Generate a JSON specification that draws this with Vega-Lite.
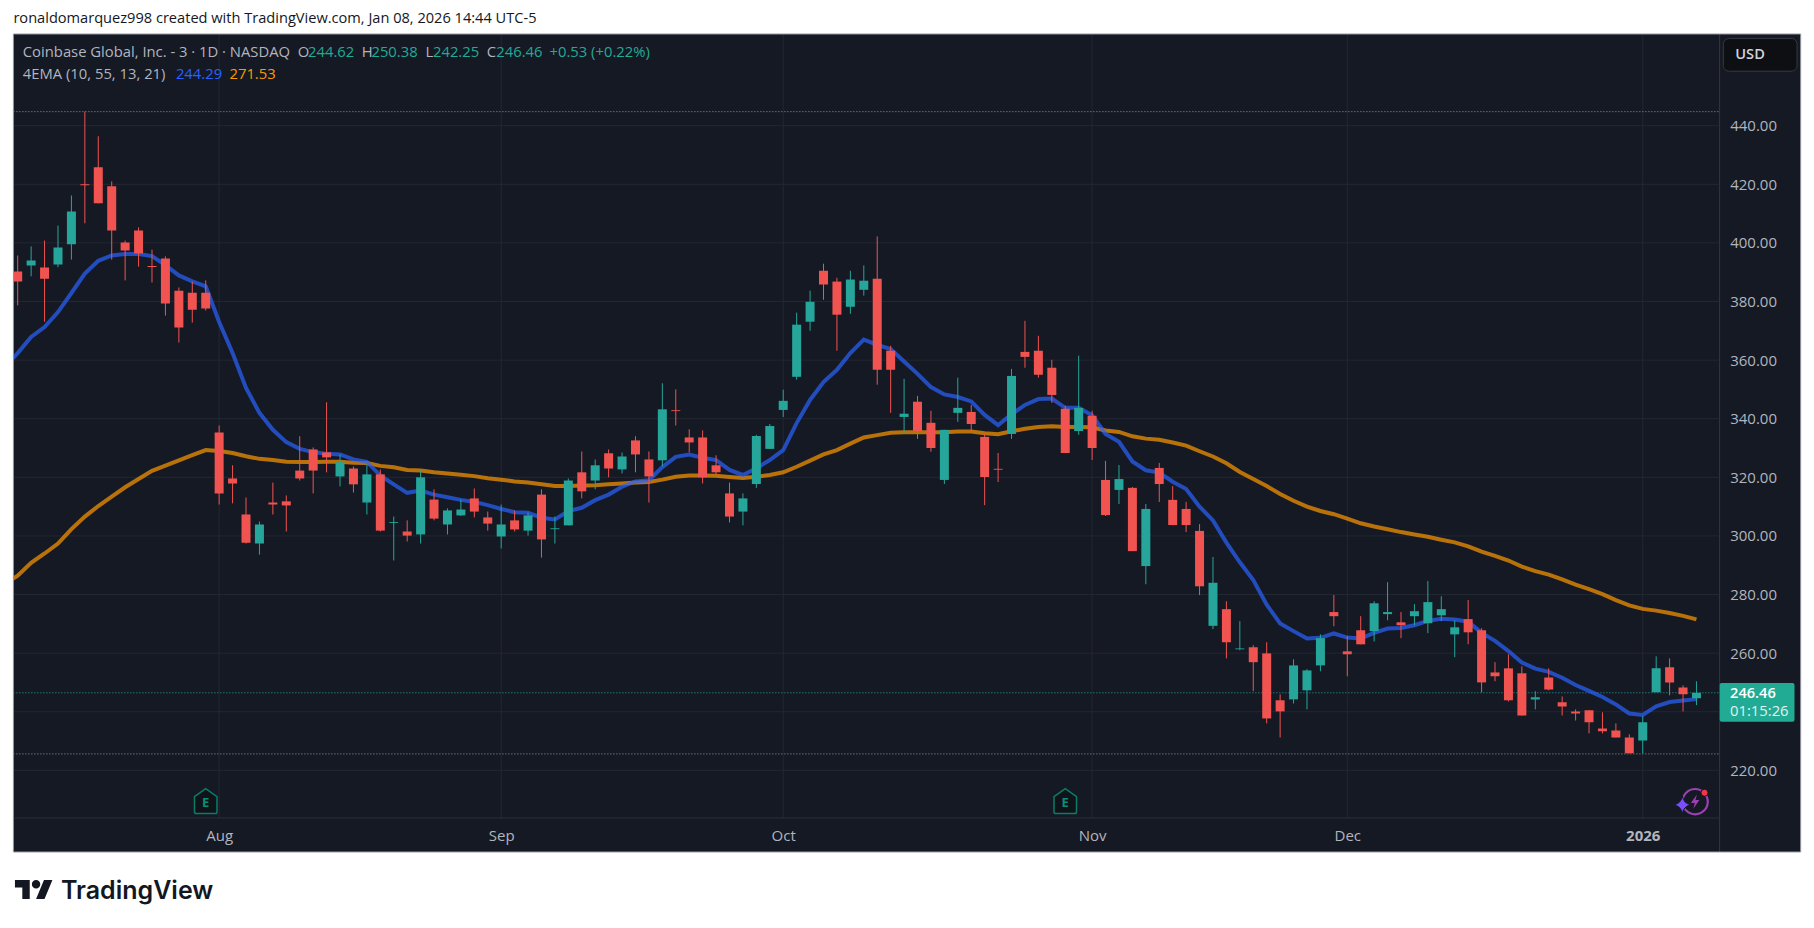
{
  "$schema": "https://vega.github.io/schema/vega-lite/v6.json",
  "width": 1706.3,
  "height": 784,
  "autosize": {"type": "none"},
  "padding": {"left": 13.4, "top": 34, "right": 94.3, "bottom": 110},
  "background": "#ffffff",
  "title": {
    "text": "ronaldomarquez998 created with TradingView.com, Jan 08, 2026 14:44 UTC-5",
    "anchor": "start",
    "frame": "group",
    "offset": 8,
    "font": "Open Sans",
    "fontSize": 14.6,
    "fontWeight": "normal",
    "color": "#131722"
  },
  "config": {
    "view": {"fill": "#151924", "stroke": null},
    "font": "Open Sans"
  },
  "datasets": {
    "candles": [
      {"bar":-1,"date":"2025-07-10","open":null,"high":null,"low":null,"close":null,"ema10":357.5,"ema55":283.5},
      {"bar":0,"date":"2025-07-11","open":390.2,"high":395.7,"low":378.7,"close":386.8,"ema10":362.4,"ema55":286.4},
      {"bar":1,"date":"2025-07-14","open":392.3,"high":398.8,"low":388.6,"close":394,"ema10":367.9,"ema55":290.8},
      {"bar":2,"date":"2025-07-15","open":391.6,"high":400.8,"low":373.1,"close":387.8,"ema10":371.3,"ema55":294},
      {"bar":3,"date":"2025-07-16","open":392.6,"high":405.9,"low":391.7,"close":398.4,"ema10":376.4,"ema55":297.4},
      {"bar":4,"date":"2025-07-17","open":399.5,"high":416.2,"low":394.3,"close":410.7,"ema10":382.9,"ema55":302.3},
      {"bar":5,"date":"2025-07-18","open":420,"high":444.8,"low":406.7,"close":419.7,"ema10":389.5,"ema55":306.6},
      {"bar":6,"date":"2025-07-21","open":425.8,"high":436.4,"low":413.5,"close":413.5,"ema10":393.9,"ema55":310.2},
      {"bar":7,"date":"2025-07-22","open":419.3,"high":421,"low":394.3,"close":404.2,"ema10":395.7,"ema55":313.4},
      {"bar":8,"date":"2025-07-23","open":400.1,"high":400.8,"low":387.2,"close":397.4,"ema10":396.2,"ema55":316.6},
      {"bar":9,"date":"2025-07-24","open":404.2,"high":405.3,"low":391.9,"close":396.4,"ema10":396.2,"ema55":319.4},
      {"bar":10,"date":"2025-07-25","open":392.1,"high":397.7,"low":386.5,"close":391.8,"ema10":395.5,"ema55":322.2},
      {"bar":11,"date":"2025-07-28","open":394.7,"high":395.4,"low":375.2,"close":379.3,"ema10":392.4,"ema55":324},
      {"bar":12,"date":"2025-07-29","open":383.7,"high":384.8,"low":366,"close":371.1,"ema10":388.9,"ema55":325.8},
      {"bar":13,"date":"2025-07-30","open":383,"high":386.8,"low":372.8,"close":377.2,"ema10":386.9,"ema55":327.6},
      {"bar":14,"date":"2025-07-31","open":383,"high":387.2,"low":376.9,"close":377.6,"ema10":385.2,"ema55":329.3},
      {"bar":15,"date":"2025-08-01","open":335.3,"high":337.7,"low":310.7,"close":314.5,"ema10":373,"ema55":329},
      {"bar":16,"date":"2025-08-04","open":319.6,"high":324.1,"low":311.1,"close":317.9,"ema10":362.4,"ema55":328.3},
      {"bar":17,"date":"2025-08-05","open":307.3,"high":313.1,"low":297.4,"close":297.7,"ema10":350.5,"ema55":327.2},
      {"bar":18,"date":"2025-08-06","open":297.4,"high":304.9,"low":293.6,"close":303.9,"ema10":342,"ema55":326.3},
      {"bar":19,"date":"2025-08-07","open":311.4,"high":318.2,"low":307.3,"close":310.7,"ema10":336.2,"ema55":325.9},
      {"bar":20,"date":"2025-08-08","open":311.8,"high":313.8,"low":301.5,"close":310.4,"ema10":332,"ema55":325.3},
      {"bar":21,"date":"2025-08-11","open":322.3,"high":334,"low":318.9,"close":319.6,"ema10":329.7,"ema55":325.2},
      {"bar":22,"date":"2025-08-12","open":329.5,"high":330.2,"low":314.5,"close":322.3,"ema10":328.6,"ema55":325.2},
      {"bar":23,"date":"2025-08-13","open":328.5,"high":345.6,"low":321.7,"close":326.8,"ema10":328,"ema55":325.3},
      {"bar":24,"date":"2025-08-14","open":320.3,"high":327.8,"low":316.9,"close":325.1,"ema10":327.8,"ema55":325.3},
      {"bar":25,"date":"2025-08-15","open":323,"high":323.7,"low":314.8,"close":317.6,"ema10":326.1,"ema55":325},
      {"bar":26,"date":"2025-08-18","open":311.4,"high":324.4,"low":307.3,"close":321,"ema10":325.3,"ema55":324.9},
      {"bar":27,"date":"2025-08-19","open":321,"high":322.7,"low":301.5,"close":301.8,"ema10":320.6,"ema55":323.9},
      {"bar":28,"date":"2025-08-20","open":304.4,"high":306.6,"low":291.6,"close":304.7,"ema10":317.6,"ema55":323.4},
      {"bar":29,"date":"2025-08-21","open":301.5,"high":305.3,"low":298.1,"close":300.1,"ema10":314.7,"ema55":322.5},
      {"bar":30,"date":"2025-08-22","open":300.5,"high":322.3,"low":297.4,"close":320,"ema10":315.5,"ema55":322.3},
      {"bar":31,"date":"2025-08-25","open":312.4,"high":315.9,"low":305.3,"close":305.9,"ema10":314.1,"ema55":321.7},
      {"bar":32,"date":"2025-08-26","open":303.9,"high":309.4,"low":300.5,"close":308.7,"ema10":313.2,"ema55":321.3},
      {"bar":33,"date":"2025-08-27","open":307,"high":312.4,"low":306.8,"close":309,"ema10":312.3,"ema55":320.9},
      {"bar":34,"date":"2025-08-28","open":312.8,"high":316.2,"low":306.3,"close":308.3,"ema10":311.6,"ema55":320.4},
      {"bar":35,"date":"2025-08-29","open":306.3,"high":308.3,"low":301.8,"close":304.2,"ema10":310.5,"ema55":319.7},
      {"bar":36,"date":"2025-09-02","open":299.8,"high":310.7,"low":295.7,"close":303.9,"ema10":309.2,"ema55":319.2},
      {"bar":37,"date":"2025-09-03","open":305.3,"high":308.7,"low":301.5,"close":302.2,"ema10":308.1,"ema55":318.6},
      {"bar":38,"date":"2025-09-04","open":301.8,"high":308,"low":300.1,"close":307,"ema10":307.9,"ema55":318.2},
      {"bar":39,"date":"2025-09-05","open":314.1,"high":315.9,"low":292.6,"close":298.8,"ema10":306.2,"ema55":317.6},
      {"bar":40,"date":"2025-09-08","open":302.3,"high":306.6,"low":297.4,"close":302.6,"ema10":305.6,"ema55":317},
      {"bar":41,"date":"2025-09-09","open":303.6,"high":319.6,"low":303.6,"close":318.9,"ema10":308.5,"ema55":317},
      {"bar":42,"date":"2025-09-10","open":321.7,"high":328.8,"low":312.8,"close":315.2,"ema10":309.6,"ema55":317.2},
      {"bar":43,"date":"2025-09-11","open":318.9,"high":326.1,"low":315.9,"close":324.1,"ema10":312.2,"ema55":317.3},
      {"bar":44,"date":"2025-09-12","open":328.2,"high":329.5,"low":320,"close":323,"ema10":314.1,"ema55":317.6},
      {"bar":45,"date":"2025-09-15","open":322.7,"high":328.5,"low":321.3,"close":327.1,"ema10":316.8,"ema55":317.9},
      {"bar":46,"date":"2025-09-16","open":332.6,"high":334,"low":321.7,"close":327.8,"ema10":318.6,"ema55":318.2},
      {"bar":47,"date":"2025-09-17","open":326.1,"high":328.8,"low":311.4,"close":320.3,"ema10":319,"ema55":318.4},
      {"bar":48,"date":"2025-09-18","open":325.8,"high":352.1,"low":323.7,"close":343.2,"ema10":323.5,"ema55":319.2},
      {"bar":49,"date":"2025-09-19","open":342.9,"high":350,"low":337.7,"close":342.6,"ema10":327,"ema55":320.2},
      {"bar":50,"date":"2025-09-22","open":333.6,"high":336.4,"low":328.5,"close":331.9,"ema10":327.8,"ema55":320.6},
      {"bar":51,"date":"2025-09-23","open":333.6,"high":336,"low":317.9,"close":320,"ema10":326.7,"ema55":320.6},
      {"bar":52,"date":"2025-09-24","open":324.1,"high":327.5,"low":321,"close":321.7,"ema10":325.9,"ema55":320.5},
      {"bar":53,"date":"2025-09-25","open":314.5,"high":318.2,"low":304.6,"close":306.6,"ema10":322.5,"ema55":320.1},
      {"bar":54,"date":"2025-09-26","open":308.3,"high":314.5,"low":303.6,"close":312.8,"ema10":320.8,"ema55":319.8},
      {"bar":55,"date":"2025-09-29","open":317.7,"high":334.5,"low":316.4,"close":334.1,"ema10":323.1,"ema55":320.2},
      {"bar":56,"date":"2025-09-30","open":329.7,"high":338.2,"low":329.7,"close":337.5,"ema10":325.9,"ema55":320.8},
      {"bar":57,"date":"2025-10-01","open":343,"high":349.9,"low":340.6,"close":346.1,"ema10":329.3,"ema55":321.7},
      {"bar":58,"date":"2025-10-02","open":354.3,"high":376.2,"low":353.3,"close":372.1,"ema10":338.5,"ema55":323.6},
      {"bar":59,"date":"2025-10-03","open":373.1,"high":383.7,"low":370,"close":379.9,"ema10":346.4,"ema55":325.7},
      {"bar":60,"date":"2025-10-06","open":390.5,"high":392.9,"low":380.6,"close":385.8,"ema10":352.5,"ema55":327.8},
      {"bar":61,"date":"2025-10-07","open":386.8,"high":388.1,"low":363.2,"close":375.5,"ema10":356.7,"ema55":329.3},
      {"bar":62,"date":"2025-10-08","open":378.2,"high":390.5,"low":375.8,"close":387.5,"ema10":362.4,"ema55":331.5},
      {"bar":63,"date":"2025-10-09","open":384,"high":392.3,"low":382,"close":387.1,"ema10":367,"ema55":333.6},
      {"bar":64,"date":"2025-10-10","open":387.8,"high":402.2,"low":351.6,"close":356.7,"ema10":365.2,"ema55":334.4},
      {"bar":65,"date":"2025-10-13","open":363.2,"high":364.9,"low":342,"close":356.7,"ema10":363.8,"ema55":335.2},
      {"bar":66,"date":"2025-10-14","open":340.6,"high":353.6,"low":335.2,"close":341.7,"ema10":359.5,"ema55":335.4},
      {"bar":67,"date":"2025-10-15","open":345.8,"high":347.8,"low":333.1,"close":335.8,"ema10":355.3,"ema55":335.4},
      {"bar":68,"date":"2025-10-16","open":338.6,"high":342.7,"low":328.7,"close":330,"ema10":350.8,"ema55":335.4},
      {"bar":69,"date":"2025-10-17","open":319.1,"high":336.2,"low":317.7,"close":336.2,"ema10":348.3,"ema55":335.4},
      {"bar":70,"date":"2025-10-20","open":342,"high":354,"low":338.9,"close":343.7,"ema10":347.4,"ema55":335.6},
      {"bar":71,"date":"2025-10-21","open":342.3,"high":344.7,"low":335.5,"close":338.2,"ema10":345.9,"ema55":335.6},
      {"bar":72,"date":"2025-10-22","open":333.8,"high":334.8,"low":310.5,"close":320.1,"ema10":341.3,"ema55":335},
      {"bar":73,"date":"2025-10-23","open":322.9,"high":328.3,"low":318.4,"close":322.6,"ema10":337.8,"ema55":334.7},
      {"bar":74,"date":"2025-10-24","open":334.8,"high":357,"low":333.1,"close":354.6,"ema10":341.5,"ema55":335.7},
      {"bar":75,"date":"2025-10-27","open":362.8,"high":373.4,"low":357.4,"close":361.1,"ema10":344.7,"ema55":336.6},
      {"bar":76,"date":"2025-10-28","open":363.2,"high":368.3,"low":354,"close":355,"ema10":346.7,"ema55":337.2},
      {"bar":77,"date":"2025-10-29","open":357.4,"high":360.1,"low":345.4,"close":348.1,"ema10":346.9,"ema55":337.4},
      {"bar":78,"date":"2025-10-30","open":343.4,"high":344.4,"low":328.3,"close":328.3,"ema10":343.7,"ema55":337.2},
      {"bar":79,"date":"2025-10-31","open":335.8,"high":361.5,"low":334.5,"close":343.7,"ema10":343.7,"ema55":337.2},
      {"bar":80,"date":"2025-11-03","open":341,"high":342.7,"low":325.9,"close":330,"ema10":341.2,"ema55":337.1},
      {"bar":81,"date":"2025-11-04","open":319.1,"high":325.6,"low":306.8,"close":307.1,"ema10":334.8,"ema55":336},
      {"bar":82,"date":"2025-11-05","open":315.7,"high":324.2,"low":310.9,"close":319.4,"ema10":332.1,"ema55":335.5},
      {"bar":83,"date":"2025-11-06","open":316.4,"high":316.7,"low":294.8,"close":294.8,"ema10":325.4,"ema55":334},
      {"bar":84,"date":"2025-11-07","open":289.7,"high":310.9,"low":283.5,"close":309.2,"ema10":322.4,"ema55":333.2},
      {"bar":85,"date":"2025-11-10","open":323.2,"high":324.9,"low":311.6,"close":317.7,"ema10":321.6,"ema55":332.8},
      {"bar":86,"date":"2025-11-11","open":312.3,"high":317,"low":303.7,"close":303.7,"ema10":318.5,"ema55":331.9},
      {"bar":87,"date":"2025-11-12","open":309.2,"high":311.6,"low":301.3,"close":303.7,"ema10":316,"ema55":330.8},
      {"bar":88,"date":"2025-11-13","open":301.7,"high":304,"low":279.8,"close":282.8,"ema10":310,"ema55":328.9},
      {"bar":89,"date":"2025-11-14","open":269.3,"high":292.8,"low":268.2,"close":284,"ema10":305.3,"ema55":327.1},
      {"bar":90,"date":"2025-11-17","open":275,"high":277.7,"low":258.2,"close":263.7,"ema10":297.7,"ema55":324.8},
      {"bar":91,"date":"2025-11-18","open":261.3,"high":270.9,"low":261,"close":261.6,"ema10":291,"ema55":321.8},
      {"bar":92,"date":"2025-11-19","open":262,"high":262.7,"low":247,"close":256.9,"ema10":284.9,"ema55":319.4},
      {"bar":93,"date":"2025-11-20","open":259.9,"high":263.7,"low":236,"close":237.7,"ema10":276.5,"ema55":317},
      {"bar":94,"date":"2025-11-21","open":243.9,"high":245.9,"low":231.2,"close":240.1,"ema10":270.1,"ema55":314.3},
      {"bar":95,"date":"2025-11-24","open":244.2,"high":257.9,"low":242.8,"close":255.8,"ema10":267.5,"ema55":312},
      {"bar":96,"date":"2025-11-25","open":247.3,"high":254.5,"low":240.8,"close":254.1,"ema10":265,"ema55":310},
      {"bar":97,"date":"2025-11-26","open":255.8,"high":266.4,"low":253.8,"close":265.1,"ema10":265.2,"ema55":308.5},
      {"bar":98,"date":"2025-11-28","open":274,"high":279.8,"low":269.2,"close":272.6,"ema10":266.7,"ema55":307.4},
      {"bar":99,"date":"2025-12-01","open":260.6,"high":265.8,"low":252.1,"close":259.6,"ema10":265.3,"ema55":305.9},
      {"bar":100,"date":"2025-12-02","open":267.8,"high":272.6,"low":263,"close":263,"ema10":265,"ema55":304.3},
      {"bar":101,"date":"2025-12-03","open":267.5,"high":277.7,"low":264,"close":277,"ema10":266.9,"ema55":303.2},
      {"bar":102,"date":"2025-12-04","open":273.3,"high":284.2,"low":271.2,"close":274,"ema10":268.4,"ema55":302.3},
      {"bar":103,"date":"2025-12-05","open":270.5,"high":274,"low":265.1,"close":269.5,"ema10":268.6,"ema55":301.3},
      {"bar":104,"date":"2025-12-08","open":272.6,"high":276.7,"low":269.5,"close":274.3,"ema10":269.5,"ema55":300.5},
      {"bar":105,"date":"2025-12-09","open":270.2,"high":284.6,"low":266.8,"close":277.4,"ema10":271,"ema55":299.7},
      {"bar":106,"date":"2025-12-10","open":272.9,"high":279.4,"low":270.9,"close":275,"ema10":271.7,"ema55":298.7},
      {"bar":107,"date":"2025-12-11","open":266.4,"high":271.2,"low":258.6,"close":268.8,"ema10":271.5,"ema55":297.8},
      {"bar":108,"date":"2025-12-12","open":271.6,"high":278.1,"low":263,"close":267.1,"ema10":270.7,"ema55":296.4},
      {"bar":109,"date":"2025-12-15","open":267.8,"high":268.5,"low":246.6,"close":250,"ema10":266.9,"ema55":294.6},
      {"bar":110,"date":"2025-12-16","open":253.4,"high":256.9,"low":250.4,"close":252.1,"ema10":264.2,"ema55":293.2},
      {"bar":111,"date":"2025-12-17","open":254.8,"high":259.6,"low":243.5,"close":243.9,"ema10":260.7,"ema55":291.6},
      {"bar":112,"date":"2025-12-18","open":253.1,"high":255.5,"low":238.7,"close":238.7,"ema10":256.8,"ema55":289.5},
      {"bar":113,"date":"2025-12-19","open":244.2,"high":247,"low":240.8,"close":244.9,"ema10":254.7,"ema55":288},
      {"bar":114,"date":"2025-12-22","open":251.7,"high":254.8,"low":247.3,"close":247.6,"ema10":253.6,"ema55":286.8},
      {"bar":115,"date":"2025-12-23","open":243.2,"high":245.2,"low":238.7,"close":241.8,"ema10":251.6,"ema55":285.2},
      {"bar":116,"date":"2025-12-24","open":240.1,"high":240.8,"low":237,"close":239.4,"ema10":249.1,"ema55":283.4},
      {"bar":117,"date":"2025-12-26","open":240.5,"high":240.5,"low":232.6,"close":236.4,"ema10":247.1,"ema55":281.8},
      {"bar":118,"date":"2025-12-29","open":234.3,"high":239.8,"low":232.6,"close":233.3,"ema10":245,"ema55":280.1},
      {"bar":119,"date":"2025-12-30","open":233.6,"high":236,"low":231.2,"close":231.2,"ema10":242.5,"ema55":278.1},
      {"bar":120,"date":"2025-12-31","open":231.2,"high":232.3,"low":225.8,"close":225.8,"ema10":239.4,"ema55":276.3},
      {"bar":121,"date":"2026-01-02","open":230.2,"high":238.4,"low":225.8,"close":236.4,"ema10":238.9,"ema55":275.1},
      {"bar":122,"date":"2026-01-05","open":246.6,"high":258.9,"low":246.6,"close":254.8,"ema10":241.8,"ema55":274.5},
      {"bar":123,"date":"2026-01-06","open":255.2,"high":258.2,"low":245.6,"close":250,"ema10":243.3,"ema55":273.7},
      {"bar":124,"date":"2026-01-07","open":248.3,"high":249,"low":240.1,"close":245.93,"ema10":243.8,"ema55":272.7},
      {"bar":125,"date":"2026-01-08","open":244.62,"high":250.38,"low":242.25,"close":246.46,"ema10":244.29,"ema55":271.53}
    ],
    "strips": [
      {"bar":126.73,"barEnd":132.76,"price":192.12,"priceEnd":471.3},
      {"bar":-0.32,"barEnd":126.73,"price":192.12,"priceEnd":203.72}
    ],
    "frame": [
      {"bar":-0.32,"barEnd":132.76,"price":192.12,"priceEnd":471.3}
    ],
    "levels": [
      {"bar":-0.32,"barEnd":126.73,"price":444.8,"kind":"range"},
      {"bar":-0.32,"barEnd":126.73,"price":225.6,"kind":"range"},
      {"bar":-0.32,"barEnd":126.73,"price":246.46,"kind":"last"}
    ],
    "separators": [
      {"bar":-0.32,"barEnd":126.73,"price":203.72,"priceEnd":203.72},
      {"bar":126.73,"barEnd":126.73,"price":192.12,"priceEnd":471.3}
    ],
    "gridlines": [
      {"bar":-0.32,"barEnd":126.73,"price":220,"priceEnd":220},
      {"bar":-0.32,"barEnd":126.73,"price":240,"priceEnd":240},
      {"bar":-0.32,"barEnd":126.73,"price":260,"priceEnd":260},
      {"bar":-0.32,"barEnd":126.73,"price":280,"priceEnd":280},
      {"bar":-0.32,"barEnd":126.73,"price":300,"priceEnd":300},
      {"bar":-0.32,"barEnd":126.73,"price":320,"priceEnd":320},
      {"bar":-0.32,"barEnd":126.73,"price":340,"priceEnd":340},
      {"bar":-0.32,"barEnd":126.73,"price":360,"priceEnd":360},
      {"bar":-0.32,"barEnd":126.73,"price":380,"priceEnd":380},
      {"bar":-0.32,"barEnd":126.73,"price":400,"priceEnd":400},
      {"bar":-0.32,"barEnd":126.73,"price":420,"priceEnd":420},
      {"bar":-0.32,"barEnd":126.73,"price":440,"priceEnd":440},
      {"bar":15,"barEnd":15,"price":203.72,"priceEnd":471.3},
      {"bar":36,"barEnd":36,"price":203.72,"priceEnd":471.3},
      {"bar":57,"barEnd":57,"price":203.72,"priceEnd":471.3},
      {"bar":80,"barEnd":80,"price":203.72,"priceEnd":471.3},
      {"bar":99,"barEnd":99,"price":203.72,"priceEnd":471.3},
      {"bar":121,"barEnd":121,"price":203.72,"priceEnd":471.3}
    ],
    "earnings": [
      {"bar":14,"price":209.5,"label":"E"},
      {"bar":78,"price":209.5,"label":"E"}
    ],
    "notes": [
      {"bar":0.38,"price":464.71,"label":"Coinbase Global, Inc. - 3 · 1D · NASDAQ","role":"muted"},
      {"bar":20.86,"price":464.71,"label":"O","role":"muted"},
      {"bar":21.62,"price":464.71,"label":"244.62","role":"up"},
      {"bar":25.61,"price":464.71,"label":"H","role":"muted"},
      {"bar":26.34,"price":464.71,"label":"250.38","role":"up"},
      {"bar":30.36,"price":464.71,"label":"L","role":"muted"},
      {"bar":30.92,"price":464.71,"label":"242.25","role":"up"},
      {"bar":34.92,"price":464.71,"label":"C","role":"muted"},
      {"bar":35.64,"price":464.71,"label":"246.46","role":"up"},
      {"bar":39.6,"price":464.71,"label":"+0.53 (+0.22%)","role":"up"},
      {"bar":0.38,"price":457.3,"label":"4EMA (10, 55, 13, 21)","role":"muted"},
      {"bar":11.78,"price":457.3,"label":"244.29","role":"fast"},
      {"bar":15.77,"price":457.3,"label":"271.53","role":"slow"},
      {"bar":127.5,"price":240,"label":"01:15:26","role":"pale"}
    ],
    "strongNotes": [
      {"bar":127.89,"price":464.23,"label":"USD","role":"bright"},
      {"bar":127.5,"price":246.04,"label":"246.46","role":"white"}
    ]
  },
  "data": {"name": "candles"},
  "encoding": {
    "x": {
      "field": "bar",
      "type": "quantitative",
      "scale": {"domain": [-0.32, 126.73], "nice": false, "zero": false, "padding": 0},
      "axis": {
        "title": null,
        "values": [15, 36, 57, 80, 99, 121],
        "labelExpr": "datum.value == 15 ? 'Aug' : datum.value == 36 ? 'Sep' : datum.value == 57 ? 'Oct' : datum.value == 80 ? 'Nov' : datum.value == 99 ? 'Dec' : '2026'",
        "labelFontWeight": {"condition": {"test": "datum.value == 121", "value": "bold"}, "value": "normal"},
        "labelFontSize": 15,
        "labelColor": "#b2b5be",
        "labelPadding": 10,
        "labelOverlap": false,
        "labelFlush": false,
        "ticks": false,
        "domain": false,
        "grid": false,
        "zindex": 1
      }
    }
  },
  "layer": [
    {
      "data": {"name": "strips"},
      "mark": {"type": "rect", "fill": "#151924"},
      "encoding": {
        "x2": {"field": "barEnd"},
        "y": {
          "field": "price",
          "type": "quantitative",
          "scale": {"domain": [203.72, 471.3], "nice": false, "zero": false, "padding": 0},
          "axis": {
            "title": null,
            "orient": "right",
            "values": [220, 260, 280, 300, 320, 340, 360, 380, 400, 420, 440],
            "format": ".2f",
            "labelFontSize": 15,
            "labelColor": "#b2b5be",
            "labelPadding": 10,
            "ticks": false,
            "domain": false,
            "grid": false,
            "zindex": 1
          }
        },
        "y2": {"field": "priceEnd"}
      }
    },
    {
      "data": {"name": "gridlines"},
      "mark": {"type": "rule", "color": "#232731", "strokeWidth": 1},
      "encoding": {
        "x2": {"field": "barEnd"},
        "y": {"field": "price", "type": "quantitative"},
        "y2": {"field": "priceEnd"}
      }
    },
    {
      "data": {"name": "separators"},
      "mark": {"type": "rule", "color": "#2a2e39", "strokeWidth": 1},
      "encoding": {
        "x2": {"field": "barEnd"},
        "y": {"field": "price", "type": "quantitative"},
        "y2": {"field": "priceEnd"}
      }
    },
    {
      "data": {"name": "levels"},
      "mark": {"type": "rule", "strokeDash": [1, 2], "strokeWidth": 1},
      "encoding": {
        "x2": {"field": "barEnd"},
        "y": {"field": "price", "type": "quantitative"},
        "color": {
          "field": "kind",
          "type": "nominal",
          "scale": {
            "domain": ["range", "last", "muted", "up", "fast", "slow", "bright", "pale", "white"],
            "range": ["#9598a1", "#26a69a", "#b2b5be", "#22ab94", "#2962ff", "#ff9800", "#d1d4dc", "#e3f1ef", "#ffffff"]
          },
          "legend": null
        }
      }
    },
    {
      "mark": {"type": "line", "color": "#ff9800", "strokeWidth": 4, "opacity": 0.7, "clip": true},
      "encoding": {"y": {"field": "ema55", "type": "quantitative"}}
    },
    {
      "mark": {"type": "line", "color": "#2962ff", "strokeWidth": 4, "opacity": 0.7, "clip": true},
      "encoding": {"y": {"field": "ema10", "type": "quantitative"}}
    },
    {
      "mark": {"type": "rule", "strokeWidth": 1, "clip": true},
      "encoding": {
        "y": {"field": "low", "type": "quantitative"},
        "y2": {"field": "high"},
        "color": {"condition": {"test": "datum.close >= datum.open", "value": "#26a69a"}, "value": "#f05350"}
      }
    },
    {
      "mark": {"type": "bar", "size": 9, "clip": true},
      "encoding": {
        "y": {"field": "open", "type": "quantitative"},
        "y2": {"field": "close"},
        "color": {"condition": {"test": "datum.close >= datum.open", "value": "#26a69a"}, "value": "#f05350"}
      }
    },
    {
      "data": {"name": "earnings"},
      "mark": {
        "type": "point",
        "shape": "M-0.9,-0.35 L0,-1 L0.9,-0.35 V0.85 Q0.9,1 0.75,1 H-0.75 Q-0.9,1 -0.9,0.85 Z",
        "size": 625,
        "filled": true,
        "fill": "#101318",
        "stroke": "#0a7c68",
        "strokeWidth": 1.5,
        "opacity": 1
      },
      "encoding": {"y": {"field": "price", "type": "quantitative"}}
    },
    {
      "data": {"name": "earnings"},
      "mark": {"type": "text", "font": "Open Sans", "fontSize": 13, "fontWeight": "bold", "color": "#0a8f78", "dy": 2},
      "encoding": {
        "y": {"field": "price", "type": "quantitative"},
        "text": {"field": "label"}
      }
    },
    {
      "data": {"values": [{"bar": 127, "barEnd": 132.49, "price": 458.6, "priceEnd": 469.8}]},
      "mark": {"type": "rect", "fill": "#0e0f13", "stroke": "#363a45", "strokeWidth": 1, "cornerRadius": 6},
      "encoding": {
        "x2": {"field": "barEnd"},
        "y": {"field": "price", "type": "quantitative"},
        "y2": {"field": "priceEnd"}
      }
    },
    {
      "data": {"values": [{"bar": 126.73, "barEnd": 132.3, "price": 236.6, "priceEnd": 249.8}]},
      "mark": {"type": "rect", "fill": "#22ab94", "cornerRadius": 2},
      "encoding": {
        "x2": {"field": "barEnd"},
        "y": {"field": "price", "type": "quantitative"},
        "y2": {"field": "priceEnd"}
      }
    },
    {
      "data": {"name": "strongNotes"},
      "mark": {"type": "text", "align": "left", "baseline": "middle", "font": "Open Sans", "fontSize": 14.6, "fontWeight": 600},
      "encoding": {
        "y": {"field": "price", "type": "quantitative"},
        "text": {"field": "label"},
        "color": {"field": "role", "type": "nominal", "legend": null}
      }
    },
    {
      "data": {"name": "notes"},
      "mark": {"type": "text", "align": "left", "baseline": "middle", "font": "Open Sans", "fontSize": 14.8},
      "encoding": {
        "y": {"field": "price", "type": "quantitative"},
        "text": {"field": "label"},
        "color": {"field": "role", "type": "nominal", "legend": null}
      }
    },
    {
      "data": {"values": [{"bar": 124.9, "price": 209.3}]},
      "mark": {"type": "point", "shape": "circle", "size": 640, "filled": false, "stroke": "#9c3fb0", "strokeWidth": 2.2, "opacity": 1},
      "encoding": {"y": {"field": "price", "type": "quantitative"}}
    },
    {
      "data": {"values": [{"bar": 124.9, "price": 209.3}]},
      "mark": {"type": "point", "shape": "M0.25,-1 L-0.6,0.2 H-0.05 L-0.25,1 L0.6,-0.25 H0.05 Z", "size": 200, "filled": true, "fill": "#9c3fb0", "opacity": 1},
      "encoding": {"y": {"field": "price", "type": "quantitative"}}
    },
    {
      "data": {"values": [{"bar": 123.95, "price": 208.2}]},
      "mark": {"type": "point", "shape": "M0,-1 Q0.12,-0.12 1,0 Q0.12,0.12 0,1 Q-0.12,0.12 -1,0 Q-0.12,-0.12 0,-1 Z", "size": 324, "filled": true, "fill": "#7c4dff", "stroke": "#151924", "strokeWidth": 1, "opacity": 1},
      "encoding": {"y": {"field": "price", "type": "quantitative"}}
    },
    {
      "data": {"values": [{"bar": 125.6, "price": 212.35}]},
      "mark": {"type": "point", "shape": "circle", "size": 50, "filled": true, "fill": "#f23645", "stroke": "#151924", "strokeWidth": 1, "opacity": 1},
      "encoding": {"y": {"field": "price", "type": "quantitative"}}
    },
    {
      "data": {"values": [{"bar": 1.21, "price": 179.3}]},
      "mark": {
        "type": "point",
        "shape": "M-0.111,0.25 H-0.306 V-0.056 H-0.5 V-0.25 H-0.111 Z M0.278,0.25 H0.056 L0.264,-0.25 H0.486 Z M-0.055,-0.139 a0.111,0.111 0 1,0 0.222,0 a0.111,0.111 0 1,0 -0.222,0 Z",
        "size": 5776,
        "filled": true,
        "fill": "#131722",
        "opacity": 1
      },
      "encoding": {"y": {"field": "price", "type": "quantitative"}}
    },
    {
      "data": {"values": [{"bar": 3.22, "price": 178.9, "label": "TradingView"}]},
      "mark": {"type": "text", "align": "left", "baseline": "middle", "font": "Inter", "fontSize": 25, "fontWeight": 600, "color": "#131722"},
      "encoding": {
        "y": {"field": "price", "type": "quantitative"},
        "text": {"field": "label"}
      }
    },
    {
      "data": {"name": "frame"},
      "mark": {"type": "rect", "fill": null, "stroke": "#9598a1", "strokeWidth": 1},
      "encoding": {
        "x2": {"field": "barEnd"},
        "y": {"field": "price", "type": "quantitative"},
        "y2": {"field": "priceEnd"}
      }
    }
  ]
}
